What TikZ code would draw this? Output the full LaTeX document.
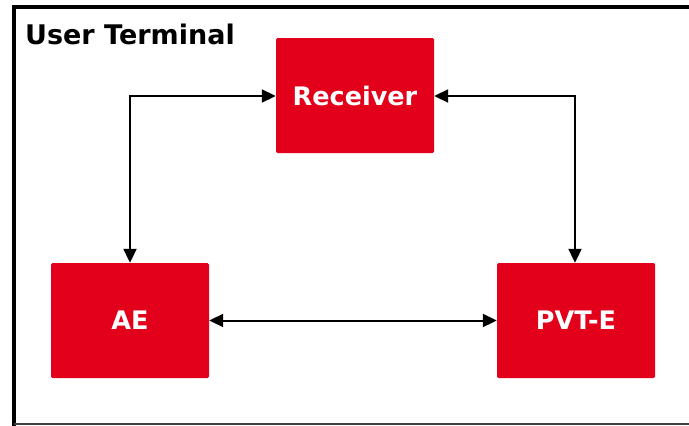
\documentclass[tikz,border=0pt]{standalone}
\usepackage{fontspec}
\setmainfont{DejaVu Sans}
\usetikzlibrary{arrows.meta}
\definecolor{boxred}{HTML}{E2001A}
\tikzset{
  block/.style={fill=boxred, rounded corners=1.5pt, minimum width=158pt, minimum height=115pt,
    inner sep=0pt, text=white, font=\fontsize{25.5}{30}\selectfont\bfseries},
  tip/.tip={Triangle[length=14pt,width=13pt]},
  link/.style={line width=2pt, tip-tip}
}
\begin{document}
\begin{tikzpicture}[x=1pt,y=-1pt]
  \useasboundingbox (0,0) rectangle (689,426);
  % outer frame of the terminal
  \draw[line width=4pt] (13.5,430) -- (13.5,7) -- (695,7);
  \draw[line width=1.5pt, draw=black!75] (13.5,424) -- (695,424);
  \node[anchor=base west, inner sep=0pt, font=\fontsize{27}{30}\selectfont\bfseries] (title) at (25,44) {User Terminal};
  % blocks
  \node[block] (rx)  at (355,95.5)  {Receiver};
  \node[block] (ae)  at (130,320.5) {AE};
  \node[block] (pvt) at (576,320.5) {PVT-E};
  % connectors
  \coordinate (c1) at (130,96);
  \coordinate (c2) at (575,96);
  \draw[link] (rx.west |- c1) -- (c1) -- (c1 |- ae.north);
  \draw[link] (rx.east |- c2) -- (c2) -- (c2 |- pvt.north);
  \draw[link] (ae.east) -- (pvt.west);
\end{tikzpicture}
\end{document}
